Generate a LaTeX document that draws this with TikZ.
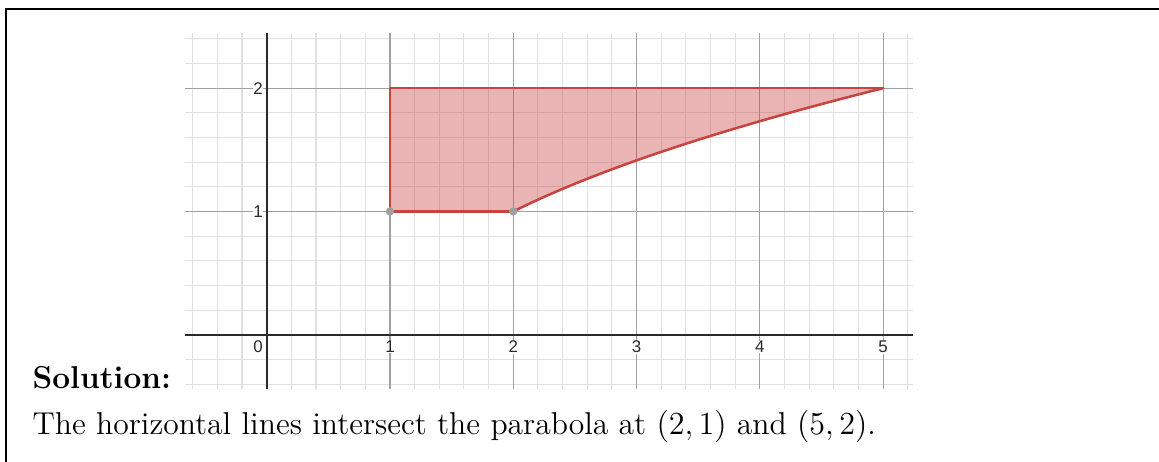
\documentclass[tikz,border=0pt]{standalone}
\usepackage{fontspec}
\newfontfamily\ticksfont{Liberation Sans}
\definecolor{dred}{HTML}{C74440}
\definecolor{minorgrid}{HTML}{E0E0E0}
\definecolor{majorgrid}{HTML}{A0A0A0}
\definecolor{axiscol}{HTML}{2A2A2A}
\definecolor{ptgray}{HTML}{A0A0A0}
\tikzset{
  minorline/.style={draw=minorgrid, line width=0.4pt},
  majorline/.style={draw=majorgrid, line width=0.4pt},
  axisline/.style={draw=axiscol, line width=0.7pt},
  ticklab/.style={font=\ticksfont\fontsize{6.3}{7}\selectfont, text=axiscol, fill=white, inner sep=0.2pt},
  region/.style={fill=dred, fill opacity=0.4, draw=none},
  edge/.style={draw=dred, line width=0.95pt, line join=round, line cap=round},
  dotpt/.style={circle, fill=ptgray, inner sep=0pt, minimum size=3.1pt},
  bodytext/.style={font=\fontsize{11.8}{14}\selectfont, inner sep=0pt, anchor=base west},
  frameline/.style={draw=black, line width=0.55pt}
}
\begin{document}
\begin{tikzpicture}[x=0.3731pt,y=-0.3731pt]
\useasboundingbox (0,0) rectangle (1159,462);
% frame
\coordinate (fr1) at (6,462);
\coordinate (fr2) at (6,9);
\coordinate (fr3) at (1159,9);
\draw[frameline] (fr1) -- (fr2) -- (fr3);
% graph
\begin{scope}[shift={(99.5pt,-124.9pt)}, x=46.0pt, y=46.0pt]
  % minor grid
  \foreach \i in {-3,...,26} {
    \draw[minorline] ({\i/5},-0.443) -- ({\i/5},2.444);
  }
  \foreach \j in {-2,...,12} {
    \draw[minorline] (-0.665,{\j/5}) -- (5.24,{\j/5});
  }
  % major grid
  \foreach \i in {1,...,5} {
    \draw[majorline] (\i,-0.443) -- (\i,2.444);
  }
  \foreach \j in {1,2} {
    \draw[majorline] (-0.665,\j) -- (5.24,\j);
  }
  % axes
  \draw[axisline] (-0.665,0) -- (5.24,0);
  \draw[axisline] (0,-0.443) -- (0,2.444);
  % region
  \coordinate (A) at (1,1);
  \coordinate (B) at (1,2);
  \coordinate (C) at (5,2);
  \coordinate (D) at (2,1);
  \fill[region] (A) -- (B) -- (C) -- plot[domain=2:1, variable=\t, samples=40, smooth] ({\t*\t+1},{\t}) -- cycle;
  \draw[edge] (D) -- (A) -- (B) -- (C);
  \draw[edge] plot[domain=1:2, variable=\t, samples=40, smooth] ({\t*\t+1},{\t});
  \node[dotpt] (pA) at (A) {};
  \node[dotpt] (pD) at (D) {};
  % tick labels
  \node[ticklab] (l0) at (-0.07,-0.1) {0};
  \foreach \i in {1,...,5} {
    \node[ticklab] (lx\i) at (\i,-0.1) {\i};
  }
  \foreach \j in {1,2} {
    \node[ticklab] (ly\j) at (-0.07,\j) {\j};
  }
\end{scope}
% text
\node[bodytext] (sol) at (32,389) {\bfseries Solution:};
\node[bodytext] (txt) at (32,435) {The horizontal lines intersect the parabola at $(2,1)$ and $(5,2)$.};
\end{tikzpicture}
\end{document}
